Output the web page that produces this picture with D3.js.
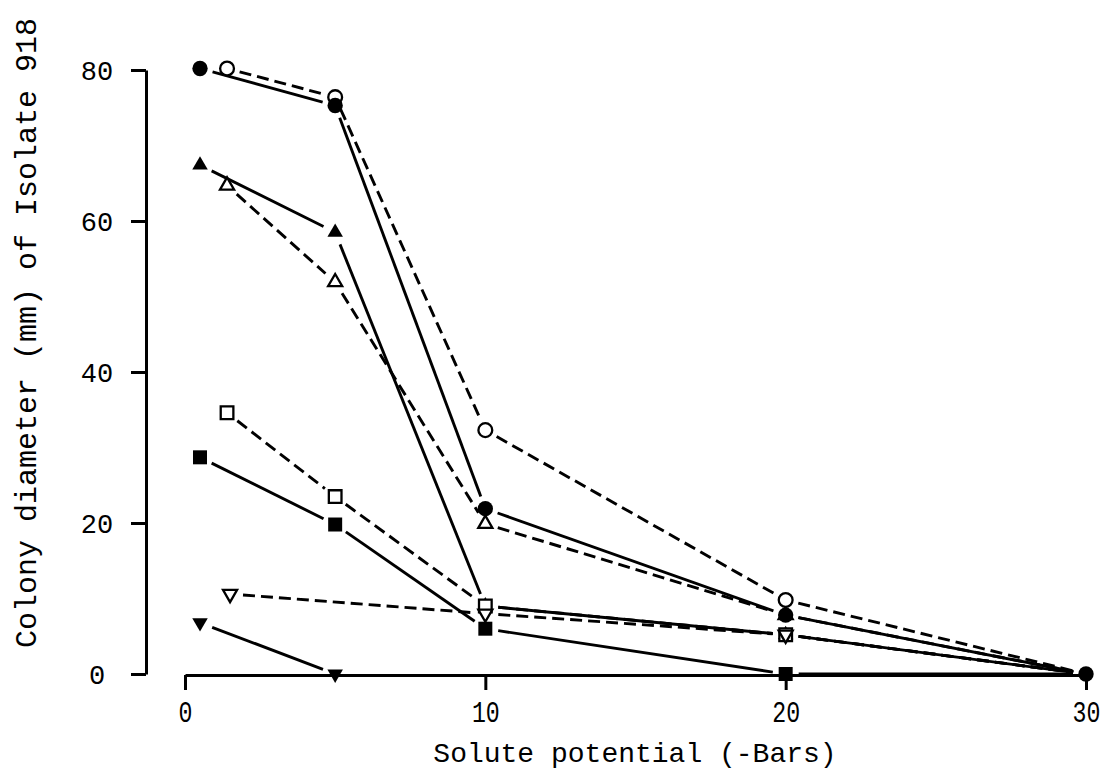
<!DOCTYPE html>
<html>
<head>
<meta charset="utf-8">
<script src="https://cdn.jsdelivr.net/npm/d3@7"></script>
<style>
  html, body { margin: 0; padding: 0; background: #fff; }
  svg { display: block; }
</style>
</head>
<body>
<svg id="chart" width="1106" height="777"></svg>
<script>
// Colony diameter of Isolate 918 against solute potential
const xTicks = [0, 10, 20, 30];
const yTicks = [0, 20, 40, 60, 80];

// Points per treatment: solute potential (-bars) and colony diameter (mm)
const filledCircleX = [0.5, 5, 10, 20];
const filledCircleY = [80.2, 75.3, 21.9, 7.8];
const openCircleX = [1.4, 5, 10, 20];
const openCircleY = [80.2, 76.4, 32.3, 9.8];
const filledTriangleX = [0.5, 5, 10, 20];
const filledTriangleY = [67.4, 58.5, 9, 5.2];
const openTriangleX = [1.4, 5, 10, 20];
const openTriangleY = [64.7, 51.9, 19.9, 7.8];
const filledSquareX = [0.5, 5, 10, 20];
const filledSquareY = [28.7, 19.8, 6, 0];
const openSquareX = [1.4, 5, 10, 20];
const openSquareY = [34.6, 23.5, 9, 5.2];
const openInvTriangleX = [1.5, 10, 20];
const openInvTriangleY = [10.6, 8, 5.2];
const filledInvTriangleX = [0.5, 5];
const filledInvTriangleY = [6.8, 0];

// All curves that reach -30 bars meet at a single point
const commonEnd = [30, 0];

// Marker draw order decides which symbol sits on top where they coincide
const series = [
  { xs: filledTriangleX, ys: filledTriangleY, shape: "triangle", filled: true, dashed: false, toEnd: true },
  { xs: openTriangleX, ys: openTriangleY, shape: "triangle", filled: false, dashed: true, toEnd: true },
  { xs: openCircleX, ys: openCircleY, shape: "circle", filled: false, dashed: true, toEnd: true },
  { xs: filledCircleX, ys: filledCircleY, shape: "circle", filled: true, dashed: false, toEnd: true },
  { xs: filledSquareX, ys: filledSquareY, shape: "square", filled: true, dashed: false, toEnd: true },
  { xs: openSquareX, ys: openSquareY, shape: "square", filled: false, dashed: true, toEnd: true },
  { xs: openInvTriangleX, ys: openInvTriangleY, shape: "invtriangle", filled: false, dashed: true, toEnd: true },
  { xs: filledInvTriangleX, ys: filledInvTriangleY, shape: "invtriangle", filled: true, dashed: false, toEnd: false }
];

const svg = d3.select("#chart");
const x = d3.scaleLinear().domain([0, 30]).range([185, 1086]);
const y = d3.scaleLinear().domain([0, 80]).range([674, 70]);

const mono = "'Liberation Mono', 'Courier New', monospace";

// ---- axes ----
const yAxis = svg.append("g")
  .attr("transform", "translate(146,0)")
  .call(d3.axisLeft(y).tickValues(yTicks).tickSize(15).tickSizeOuter(0).tickFormat(d3.format("d")));
yAxis.selectAll("path.domain, line").attr("stroke", "#000").attr("stroke-width", 3);
yAxis.selectAll("text")
  .attr("x", -49)
  .attr("dy", "0.36em")
  .attr("text-anchor", "middle")
  .attr("fill", "#000")
  .style("font-family", mono)
  .style("font-size", "27px");

const xAxis = svg.append("g")
  .attr("transform", "translate(0,675)")
  .call(d3.axisBottom(x).tickValues(xTicks).tickSize(15).tickSizeOuter(0).tickFormat(d3.format("d")));
xAxis.selectAll("path.domain, line").attr("stroke", "#000").attr("stroke-width", 3);
xAxis.selectAll("text")
  .attr("y", 47)
  .attr("dy", 0)
  .attr("text-anchor", "middle")
  .attr("transform", "scale(0.8,1)")
  .attr("fill", "#000")
  .style("font-family", mono)
  .style("font-size", "29px");

// ---- connecting lines, stopped short of each symbol ----
const gap = 13;
const segLine = d3.line();
const linesG = svg.append("g");
series.forEach(s => {
  const pts = s.xs.map((v, i) => [x(v), y(s.ys[i])]);
  if (s.toEnd) pts.push([x(commonEnd[0]), y(commonEnd[1])]);
  for (let i = 0; i < pts.length - 1; i++) {
    const [x0, y0] = pts[i], [x1, y1] = pts[i + 1];
    const len = Math.hypot(x1 - x0, y1 - y0);
    const ux = (x1 - x0) / len, uy = (y1 - y0) / len;
    linesG.append("path")
      .attr("d", segLine([[x0 + ux * gap, y0 + uy * gap], [x1 - ux * gap, y1 - uy * gap]]))
      .attr("fill", "none")
      .attr("stroke", "#000")
      .attr("stroke-width", 2.9)
      .attr("stroke-dasharray", s.dashed ? "12,6" : null);
  }
});

// ---- symbols ----
function symbolFor(shape, filled) {
  if (shape === "circle") return d3.symbol(d3.symbolCircle, filled ? 185 : 150)();
  if (shape === "square") return d3.symbol(d3.symbolSquare, filled ? 196 : 160)();
  return d3.symbol(d3.symbolTriangle, filled ? 104 : 86)();
}
const marksG = svg.append("g");
series.forEach(s => {
  const path = symbolFor(s.shape, s.filled);
  s.xs.forEach((v, i) => {
    marksG.append("path")
      .attr("d", path)
      .attr("transform", `translate(${x(v)},${y(s.ys[i])})` + (s.shape === "invtriangle" ? " rotate(180)" : ""))
      .attr("fill", s.filled ? "#000" : "#fff")
      .attr("stroke", "#000")
      .attr("stroke-width", s.filled ? 0 : 2.3);
  });
});
marksG.append("path")
  .attr("d", symbolFor("circle", true))
  .attr("transform", `translate(${x(commonEnd[0])},${y(commonEnd[1])})`)
  .attr("fill", "#000");

// ---- axis titles ----
svg.append("text")
  .attr("x", 635)
  .attr("y", 762)
  .attr("text-anchor", "middle")
  .attr("fill", "#000")
  .style("font-family", mono)
  .style("font-size", "28px")
  .text("Solute potential (-Bars)");

svg.append("text")
  .attr("transform", "translate(36,333) rotate(-90)")
  .attr("text-anchor", "middle")
  .attr("fill", "#000")
  .style("font-family", mono)
  .style("font-size", "30px")
  .text("Colony diameter (mm) of Isolate 918");
</script>
</body>
</html>
